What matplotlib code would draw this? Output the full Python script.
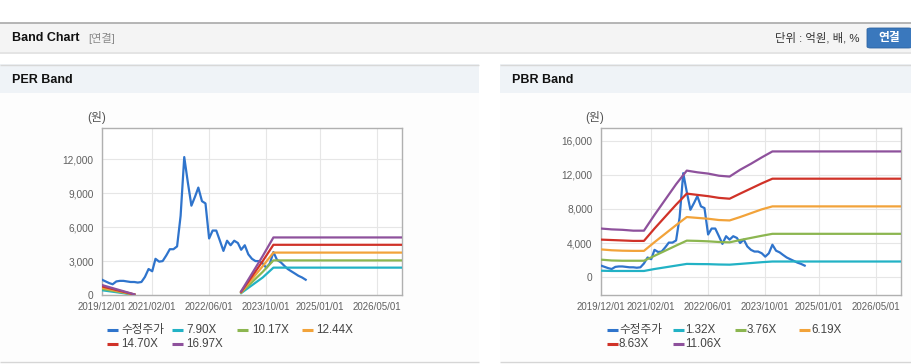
import matplotlib
matplotlib.use("Agg")
import matplotlib.pyplot as plt
import matplotlib.dates as mdates
from matplotlib.patches import Rectangle, FancyBboxPatch
from matplotlib.lines import Line2D
from matplotlib.ticker import FuncFormatter
import pandas as pd
import numpy as np

plt.rcParams['font.family'] = ['Liberation Sans', 'Noto Sans CJK KR', 'DejaVu Sans']

# ---------------- data ----------------
price_dates = pd.date_range('2019-12-01', periods=58, freq='MS')
price = [1350, 1200, 1050, 950, 1200, 1250, 1250, 1200, 1150, 1150,
         1100, 1150, 1600, 2300, 2100, 3200, 2950, 3000, 3500, 4050,
         4050, 4300, 7000, 12200, 10000, 7900, 8700, 9500, 8300, 8100,
         5000, 5700, 5700, 4800, 3900, 4800, 4400, 4800, 4600, 4000,
         4400, 3600, 3200, 3000, 3000, 2800, 2400, 2800, 3800, 3100,
         2900, 2600, 2300, 2100, 1900, 1700, 1550, 1350]

per_labels = ['7.90X', '10.17X', '12.44X', '14.70X', '16.97X']
per_dates_a = pd.to_datetime(['2019-12-01', '2020-09-01'])
per_dates_b = pd.to_datetime(['2023-03-01', '2023-09-01', '2023-12-01', '2026-12-01'])
per_a = {
    '7.90X':  [420, 30],
    '10.17X': [540, 35],
    '12.44X': [650, 45],
    '14.70X': [760, 50],
    '16.97X': [880, 60],
}
per_b = {
    '7.90X':  [170, 1550, 2420, 2420],
    '10.17X': [210, 2050, 3060, 3060],
    '12.44X': [250, 2550, 3750, 3750],
    '14.70X': [290, 3000, 4440, 4440],
    '16.97X': [330, 3450, 5090, 5090],
}

pbr_labels = ['1.32X', '3.76X', '6.19X', '8.63X', '11.06X']
pbr_dates = pd.to_datetime(['2019-12-01', '2020-03-01', '2020-06-01', '2020-09-01',
                            '2020-12-01', '2021-03-01', '2021-06-01', '2021-09-01',
                            '2021-12-01', '2022-03-01', '2022-06-01', '2022-09-01',
                            '2022-12-01', '2023-03-01', '2023-06-01', '2023-09-01',
                            '2023-12-01', '2026-12-01'])
pbr = {
    '1.32X':  [750, 720, 720, 720, 720, 950, 1150, 1350, 1550, 1530, 1520, 1480,
               1460, 1550, 1650, 1750, 1830, 1830],
    '3.76X':  [2050, 1950, 1920, 1920, 1920, 2500, 3100, 3700, 4280, 4250, 4200, 4120,
               4080, 4350, 4600, 4850, 5080, 5080],
    '6.19X':  [3250, 3150, 3100, 3080, 3080, 4100, 5100, 6100, 7050, 6950, 6850, 6700,
               6650, 7050, 7500, 7950, 8300, 8300],
    '8.63X':  [4400, 4350, 4300, 4250, 4250, 5700, 7100, 8500, 9800, 9650, 9500, 9300,
               9200, 9800, 10400, 11000, 11550, 11550],
    '11.06X': [5700, 5600, 5550, 5450, 5450, 7300, 9100, 10900, 12500, 12300, 12150, 11900,
               11800, 12600, 13300, 14050, 14750, 14750],
}

xtick_dates = pd.to_datetime(['2019-12-01', '2021-02-01', '2022-06-01',
                              '2023-10-01', '2025-01-01', '2026-05-01'])
per_yticks = [0, 3000, 6000, 9000, 12000]
pbr_yticks = [0, 4000, 8000, 12000, 16000]

price_label = '수정주가'
band_colors = ['#22b2c5', '#8cb650', '#f2a33a', '#d03228', '#8e519c']
price_color = '#2f74cc'

# ---------------- figure ----------------
W, H = 912, 364
fig = plt.figure(figsize=(W / 100, H / 100), dpi=100)
fig.patch.set_facecolor('white')

def fx(x):
    return x / W

def fy(y):
    return 1 - y / H

def rect(x0, y0, x1, y1, color, z=-10):
    fig.patches.append(Rectangle((fx(x0), fy(y1)), (x1 - x0) / W, (y1 - y0) / H,
                                 transform=fig.transFigure, facecolor=color,
                                 edgecolor='none', zorder=z))

def hline(x0, x1, y, color, lw=0.8, z=-5):
    fig.add_artist(Line2D([fx(x0), fx(x1)], [fy(y), fy(y)], transform=fig.transFigure,
                          color=color, lw=lw, solid_capstyle='butt', zorder=z))

# top header
hline(0, W, 22.5, '#a9a9a9', 1.2)
rect(0, 23, W, 52, '#f4f4f4')
rect(0, 52, W, 54, '#e4e4e4')
fig.text(fx(12), fy(38), 'Band Chart', fontsize=9, fontweight='bold',
         color='#111111', va='center', ha='left')
fig.text(fx(88), fy(38), '[연결]', fontsize=8, color='#8a8a8a', va='center', ha='left')
fig.text(fx(860), fy(38), '단위 : 억원, 배, %', fontsize=8.2, color='#333333',
         va='center', ha='right')
fig.patches.append(FancyBboxPatch((fx(867), fy(48)), 45 / W, 20 / H,
                                  boxstyle='round,pad=0,rounding_size=0.004',
                                  transform=fig.transFigure, facecolor='#3a78bd',
                                  edgecolor='#2e64a2', lw=0.6, zorder=-4))
fig.text(fx(889.5), fy(38), '연결', fontsize=8.5, fontweight='bold', color='white',
         va='center', ha='center')

# panels
for (px0, px1, title) in [(0, 479, 'PER Band'), (500, W, 'PBR Band')]:
    rect(px0, 64, px1, 93, '#eff3f7')
    hline(px0, px1, 64.5, '#d8d8d8', 1.0)
    rect(px0, 93, px1, 361, '#fdfdfd')
    hline(px0, px1, 362, '#d6d6d6', 1.0)
    fig.text(fx(px0 + 12), fy(80), title, fontsize=9, fontweight='bold',
             color='#111111', va='center', ha='left')

xmin = pd.Timestamp('2019-12-01')
xmax = pd.Timestamp('2026-12-01')

def setup_axes(ax, yticks, ylim):
    ax.set_facecolor('white')
    ax.set_xlim(xmin, xmax)
    ax.set_ylim(*ylim)
    ax.set_xticks(xtick_dates)
    ax.xaxis.set_major_formatter(mdates.DateFormatter('%Y/%m/%d'))
    ax.set_yticks(yticks)
    ax.yaxis.set_major_formatter(FuncFormatter(lambda v, p: f'{int(v):,}'))
    ax.grid(True, color='#e6e6e6', lw=0.8)
    ax.set_axisbelow(True)
    ax.tick_params(axis='x', length=0, labelsize=7.0, labelcolor='#606060', pad=5)
    ax.tick_params(axis='y', length=0, labelsize=7.3, labelcolor='#606060', pad=6)
    for s in ax.spines.values():
        s.set_color('#b0b0b0')
        s.set_linewidth(1.0)

# PER axes
ax1 = fig.add_axes([fx(102), fy(295), 300 / W, 167 / H])
setup_axes(ax1, per_yticks, (0, 14770))
ax1.plot(price_dates, price, color=price_color, lw=1.6, zorder=3)
for lab, c in zip(per_labels, band_colors):
    ax1.plot(per_dates_a, per_a[lab], color=c, lw=1.6, zorder=4)
    ax1.plot(per_dates_b, per_b[lab], color=c, lw=1.6, zorder=4)

# PBR axes
ax2 = fig.add_axes([fx(601), fy(295), 300 / W, 167 / H])
setup_axes(ax2, pbr_yticks, (-2100, 17500))
ax2.plot(price_dates, price, color=price_color, lw=1.6, zorder=3)
for lab, c in zip(pbr_labels, band_colors):
    ax2.plot(pbr_dates, pbr[lab], color=c, lw=1.6, zorder=4)

# (원) labels
fig.text(fx(87), fy(118), '(원)', fontsize=8.5, color='#555555', va='center', ha='left')
fig.text(fx(585), fy(118), '(원)', fontsize=8.5, color='#555555', va='center', ha='left')

# legends
def legend_item(x_line, x_text, y, color, text):
    fig.add_artist(Line2D([fx(x_line), fx(x_line + 11)], [fy(y), fy(y)],
                          transform=fig.transFigure, color=color, lw=2.2,
                          solid_capstyle='butt'))
    fig.text(fx(x_text), fy(y), text, fontsize=8.4, color='#444444',
             va='center', ha='left')

left_items = [price_label] + per_labels
left_cols = [(107, 121), (172, 186.5), (237, 252), (302, 316.5)]
right_items = [price_label] + pbr_labels
right_cols = [(607, 619), (673, 685), (735, 747), (799, 811)]
all_colors = [price_color] + band_colors
for i, (txt, c) in enumerate(zip(left_items, all_colors)):
    row, col = divmod(i, 4)
    xl, xt = left_cols[col]
    legend_item(xl, xt, 330 + 14 * row, c, txt)
for i, (txt, c) in enumerate(zip(right_items, all_colors)):
    row, col = divmod(i, 4)
    xl, xt = right_cols[col]
    legend_item(xl, xt, 330 + 14 * row, c, txt)

fig.savefig('out.png', dpi=100)
